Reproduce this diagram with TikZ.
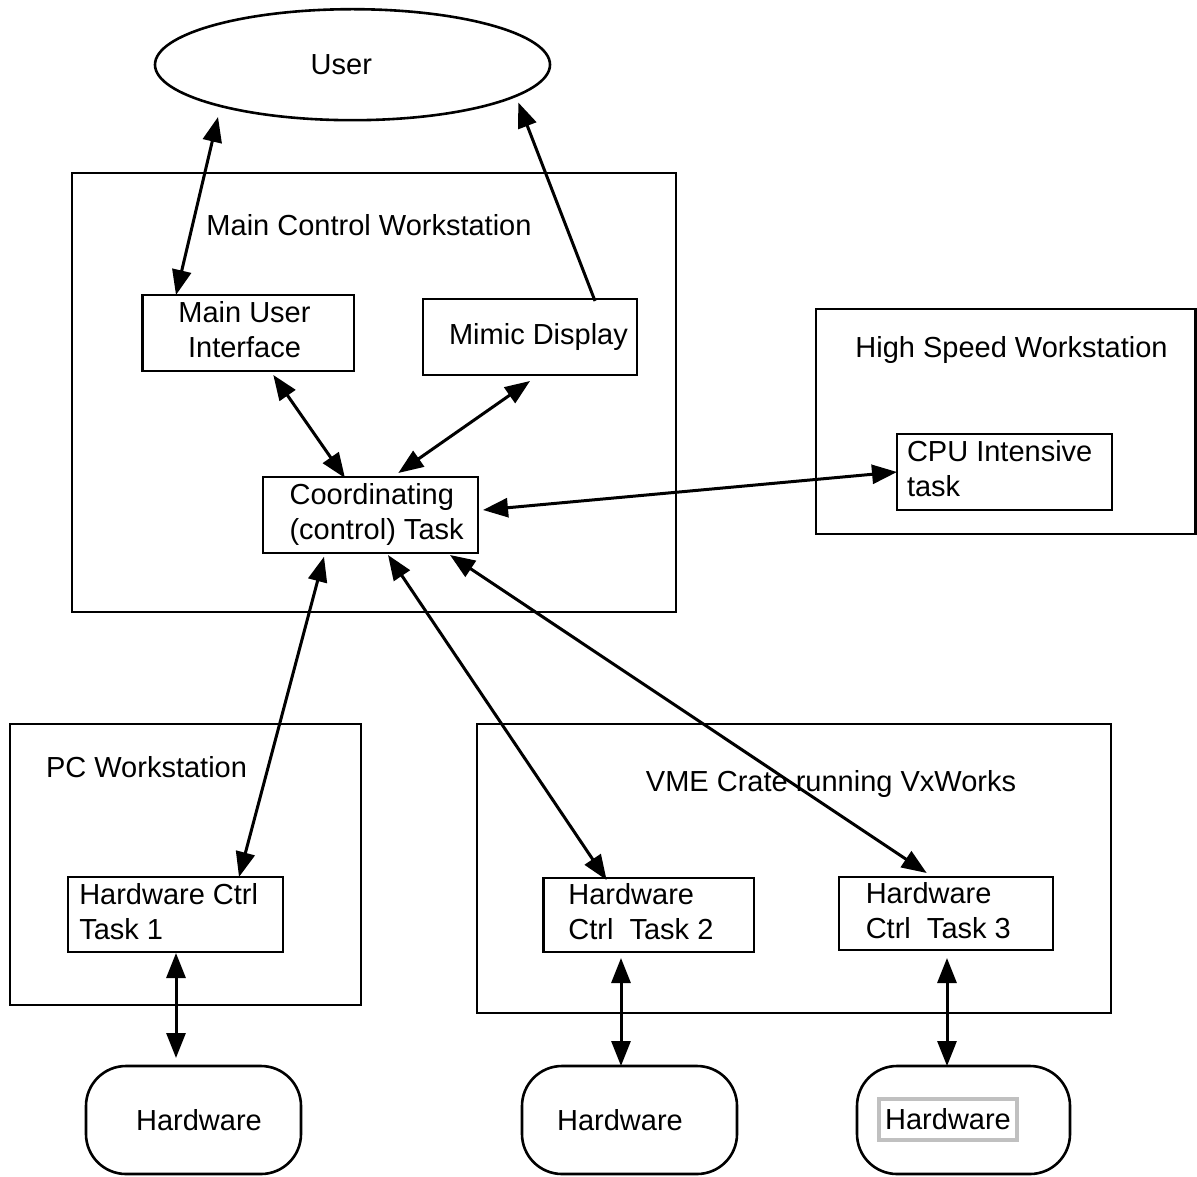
\documentclass[tikz,border=0pt]{standalone}
\usepackage{fontspec}
\setmainfont{Liberation Sans}
\usetikzlibrary{arrows.meta,shapes.geometric,calc}
\newcommand{\tl}[1]{\begin{tabular}{@{}l@{}}#1\end{tabular}}
\newcommand{\tc}[1]{\begin{tabular}{@{}c@{}}#1\end{tabular}}
\definecolor{framegray}{RGB}{192,192,192}
\begin{document}
\begin{tikzpicture}[x=0.5pt,y=-0.5pt,
  txt/.style={font=\fontsize{14.5pt}{17.5pt}\selectfont, inner sep=0pt, outer sep=0pt},
  box/.style={txt, draw, line width=1.3pt, rectangle},
  group/.style={draw, line width=1.3pt, rectangle, inner sep=0pt, outer sep=0pt},
  hwbox/.style={box, rounded corners=20pt},
  conn/.style={line width=1.5pt, {Triangle[length=12.5pt,width=9.5pt]}-{Triangle[length=12.5pt,width=9.5pt]}},
  oneway/.style={line width=1.5pt, -{Triangle[length=12.5pt,width=9.5pt]}}]
\useasboundingbox (0,0) rectangle (1197,1176);
% containers
\node[group, minimum width=302pt, minimum height=219.5pt] (mcw) at (374,392.5) {};
\node[txt, anchor=base] (mcwt) at (369,236) {Main Control Workstation};
\node[group, minimum width=189.75pt, minimum height=112.5pt] (hsw) at (1005.75,421.5) {};
\node[txt, anchor=base] (hswt) at (1011.5,357) {High Speed Workstation};
\node[group, minimum width=175.5pt, minimum height=140.5pt] (pc) at (185.5,864.5) {};
\node[txt, anchor=base] (pct) at (146.5,777) {PC Workstation};
\node[group, minimum width=317pt, minimum height=144.5pt] (vme) at (794,868.5) {};
\node[txt, anchor=base] (vmet) at (831,791) {VME Crate running VxWorks};
% user
\node[txt, ellipse, draw, line width=1.3pt, minimum width=197.5pt, minimum height=55.5pt] (user) at (352.5,64.7) {User\hspace*{11.2pt}};
% task boxes
\node[box, minimum width=105.65pt, minimum height=38pt] (mui) at (248.35,333) {\tc{Main User\\Interface}\hspace*{3.85pt}};
\node[box, minimum width=107pt, minimum height=38pt] (mimic) at (530,337) {\hspace*{8.5pt}Mimic Display};
\node[box, minimum width=107.5pt, minimum height=38pt] (coord) at (370.5,515) {\hspace*{6.1pt}\tl{Coordinating\\(control) Task}};
\node[box, minimum width=107.5pt, minimum height=38pt] (cpu) at (1004.5,472) {\tl{CPU Intensive\\task}\hspace*{4.8pt}};
\node[box, minimum width=107.5pt, minimum height=37.5pt] (hct1) at (175.5,914.5) {\tl{Hardware Ctrl\\Task 1}\hspace*{6.8pt}};
\node[box, minimum width=105.2pt, minimum height=37pt] (hct2) at (648.8,915) {\tl{Hardware\\Ctrl~~Task 2}\hspace*{7.9pt}};
\node[box, minimum width=107pt, minimum height=36.5pt] (hct3) at (946,913.5) {\tl{Hardware\\Ctrl~~Task 3}\hspace*{7.7pt}};
% hardware
\node[hwbox, minimum width=107.5pt, minimum height=54pt] (hw1) at (193.5,1120) {\hspace*{5.5pt}Hardware};
\node[hwbox, minimum width=107.5pt, minimum height=54pt] (hw2) at (629.5,1120) {Hardware\hspace*{9.5pt}};
\node[hwbox, minimum width=106.5pt, minimum height=54pt] (hw3) at (963.5,1120) {};
\node[txt, draw=framegray, line width=2pt, minimum width=69pt, minimum height=20.5pt] (hw3t) at (948,1119.5) {Hardware};
% connectors
\draw[conn] ($(user.center)+(-134.5,52.3)$) -- ($(mui.north west)+(33.3,0)$);
\draw[oneway] ($(mimic.north west)+(172,2)$) -- ($(user.center)+(165.8,37.8)$);
\draw[conn] ($(mui.south west)+(130.6,4)$) -- ($(coord.north west)+(82,1)$);
\draw[conn] ($(mimic.south west)+(107,6)$) -- ($(coord.north west)+(135.3,-4)$);
\draw[conn] ($(coord.east)+(5,-5)$) -- (cpu.west);
\draw[conn] ($(coord.south west)+(61,3.7)$) -- ($(hct1.north west)+(171,0)$);
\draw[conn] ($(coord.south west)+(125,2)$) -- ($(hct2.north west)+(63,2)$);
\draw[conn] ($(coord.south west)+(187,2)$) -- ($(hct3.north west)+(87.7,-4)$);
\draw[conn] ($(hct1.south west)+(108,1)$) -- ($(hw1.north west)+(90,-8)$);
\draw[conn] ($(hct2.south west)+(77.4,6)$) -- ($(hw2.north west)+(99,0)$);
\draw[conn] ($(hct3.south west)+(108,8)$) -- ($(hw3.north west)+(90,0)$);
\end{tikzpicture}
\end{document}
